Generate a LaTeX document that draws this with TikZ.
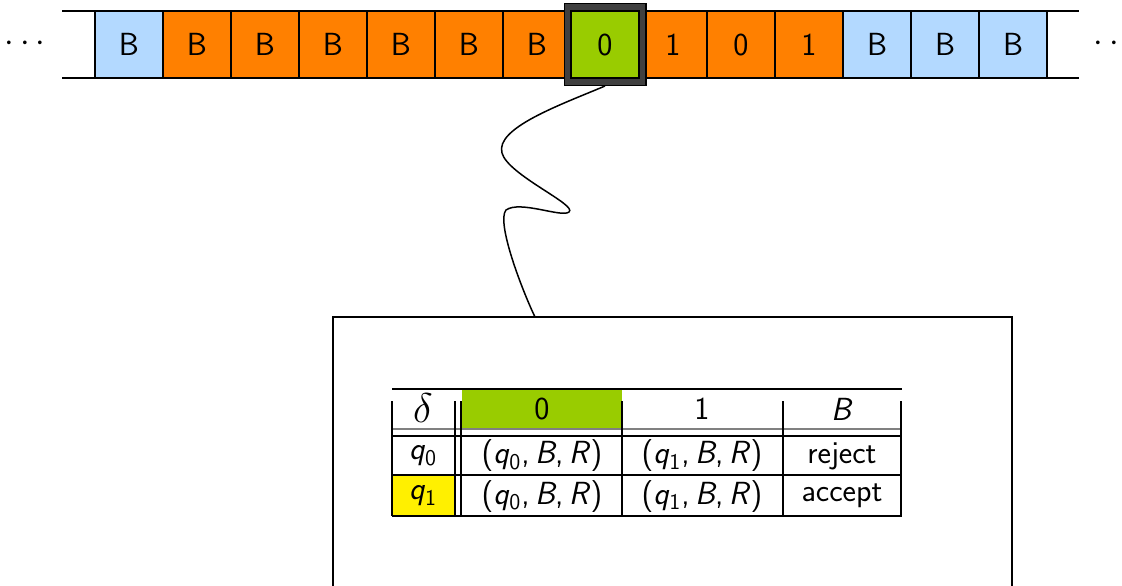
\documentclass[tikz,border=0pt]{standalone}
\usetikzlibrary{positioning}
\definecolor{blank}{RGB}{179,217,255}
\definecolor{used}{RGB}{255,128,0}
\definecolor{readcol}{RGB}{153,204,0}
\definecolor{ringcol}{RGB}{64,64,64}
\definecolor{statecol}{RGB}{255,240,0}
\newcommand{\qs}[1]{\textit{q}\textsubscript{#1}}

\begin{document}
\begin{tikzpicture}[x=0.5pt, y=-0.5pt, node distance=0pt,
    font=\sffamily\fontsize{16}{19}\selectfont,
    cell/.style={draw, line width=0.75pt, minimum width=34pt, minimum height=33.5pt, inner sep=0pt, outer sep=0pt},
    rule/.style={line width=0.75pt}]%
    \clip (0,0) rectangle (1122,585);
    % tape
    \draw[rule] (62,11) -- (1079,11) (62,78) -- (1079,78);
    \node (dl) at (25,44) {$\cdots$};
    \node (dr) at (1114,44) {$\cdots$};
    \node (c1) [cell, fill=blank, anchor=west] at (95,44.5) {B};
    \foreach \s/\c [count=\i from 2, remember=\i as \j (initially 1)] in
        {B/used, B/used, B/used, B/used, B/used, B/used, 0/readcol, 1/used, 0/used, 1/used, B/blank, B/blank, B/blank}
        \node (c\i) [cell, fill=\c, right=of c\j] {\s};
    % read head
    \node (head) [draw, line width=4pt, minimum size=37.5pt, inner sep=0pt] at (c8) {};
    \node [draw=ringcol, line width=2.6pt, minimum size=37.5pt, inner sep=0pt] at (c8) {};
    % zoomed control
    \node (zoom) [draw, line width=1pt, minimum width=339.5pt, minimum height=150pt, inner sep=0pt, outer sep=0pt, anchor=north west] at (332.5,316.5) {};
    \coordinate (tap) at (535,317);
    \draw[rule] (head.south) .. controls (560,105) and (495,128) .. (502,153)
        .. controls (508,175) and (578,205) .. (569,212)
        .. controls (562,218) and (520,200) .. (506,210)
        .. controls (496,222) and (522,290) .. (tap);
    % transition table
    \fill[readcol] (462,389) rectangle (622,429);
    \fill[statecol] (392,475) rectangle (455,516);
    \draw[rule] (392,389) -- (902,389);
    \draw[rule, gray] (392,429) -- (902,429);
    \draw[rule] (392,436) -- (902,436) (392,475) -- (902,475) (392,516) -- (902,516);
    \foreach \x in {392,455,461,622,783,901}
        \draw[rule] (\x,401) -- (\x,516);
    \node (delta) [font=\fontsize{21}{24}\selectfont] at (423,408) {$\delta$};
    \node (h0) at (542,409) {0};
    \node (h1) at (702,409) {1};
    \node (hB) at (842,409) {\textit{B}};
    \node (q0) at (423,456) {\qs0};
    \node (q1) at (423,496) {\qs1};
    \node (t00) at (542,456) {(\qs0,\,\textit{B},\,\textit{R})};
    \node (t01) at (702,456) {(\qs1,\,\textit{B},\,\textit{R})};
    \node (t0B) at (842,456) {reject};
    \node (t10) at (542,496) {(\qs0,\,\textit{B},\,\textit{R})};
    \node (t11) at (702,496) {(\qs1,\,\textit{B},\,\textit{R})};
    \node (t1B) at (842,496) {accept};
\end{tikzpicture}
\end{document}
